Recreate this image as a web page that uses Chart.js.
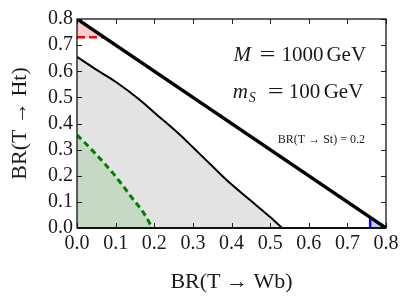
<!DOCTYPE html>
<html>
<head>
<meta charset="utf-8">
<script src="https://cdn.jsdelivr.net/npm/chart.js@4.4.1/dist/chart.umd.min.js"></script>
<style>
  html, body { margin: 0; padding: 0; background: #fff; }
</style>
</head>
<body>
<canvas id="brChart" width="407" height="300"></canvas>
<script>
// ── DATA ──────────────────────────────────────────────────────────────────────
const axisTicks  = [0, 0.1, 0.2, 0.3, 0.4, 0.5, 0.6, 0.7, 0.8];

// kinematic limit BR(Wb)+BR(Ht) = 1 - BR(St)
const limitX     = [0, 0.8];
const limitY     = [0.8, 0];

// excluded region (grey, solid black edge)
const exclX      = [0, 0.05, 0.1, 0.163, 0.2, 0.267, 0.3, 0.35, 0.396, 0.448, 0.5, 0.531];
const exclY      = [0.655, 0.606, 0.56, 0.49, 0.442, 0.356, 0.309, 0.237, 0.172, 0.107, 0.042, 0];

// green dashed region
const greenX     = [0, 0.034, 0.093, 0.137, 0.181, 0.194];
const greenY     = [0.356, 0.306, 0.21, 0.126, 0.038, 0];

// red dashed edge (Ht bound) and blue edge (Wb bound)
const redX       = [0, 0.07];
const redY       = [0.73, 0.73];
const redTopY    = [0.8, 0.73];
const blueX      = [0.759, 0.759];
const blueY      = [0, 0.041];
const blueTriX   = [0.759, 0.8];
const blueTriY   = [0.041, 0];

const FONT = '"Liberation Serif", "DejaVu Serif", serif';

const pts = (xs, ys) => xs.map((x, i) => ({ x, y: ys[i] }));

// wide "=" like the TeX one
function drawEq(ctx, x, y) {
  ctx.save();
  ctx.translate(x, y);
  ctx.scale(1.35, 1);
  ctx.fillText('=', 0, 0);
  ctx.restore();
}

// ── FRAME / TICKS / LABELS PLUGIN ────────────────────────────────────────────
const framePlugin = {
  id: 'frame',
  afterDatasetsDraw(chart) {
    const { ctx, chartArea: a, scales: { x, y } } = chart;
    ctx.save();
    ctx.strokeStyle = '#222';
    ctx.lineWidth = 1;
    // inward ticks on all four sides
    axisTicks.forEach(v => {
      const px = Math.round(x.getPixelForValue(v)) + 0.5;
      const py = Math.round(y.getPixelForValue(v)) + 0.5;
      ctx.beginPath();
      ctx.moveTo(px, a.bottom); ctx.lineTo(px, a.bottom - 5);
      ctx.moveTo(px, a.top);    ctx.lineTo(px, a.top + 5);
      ctx.moveTo(a.left, py);   ctx.lineTo(a.left + 5, py);
      ctx.moveTo(a.right, py);  ctx.lineTo(a.right - 5, py);
      ctx.stroke();
    });
    ctx.strokeStyle = '#111';
    ctx.lineWidth = 1.3;
    ctx.strokeRect(a.left, a.top, a.right - a.left, a.bottom - a.top);
    ctx.lineWidth = 2;
    ctx.beginPath();
    ctx.moveTo(a.left, a.bottom); ctx.lineTo(a.right, a.bottom);
    ctx.stroke();
    ctx.restore();
  },
  afterDraw(chart) {
    const { ctx, chartArea: a, scales: { x, y } } = chart;
    ctx.save();
    ctx.fillStyle = '#1a1a1a';

    // axis titles
    ctx.font = `22px ${FONT}`;
    ctx.textAlign = 'center';
    ctx.textBaseline = 'alphabetic';
    ctx.fillText('BR(T \u2192 Wb)', (a.left + a.right) / 2, 288);
    ctx.save();
    ctx.translate(26, (a.top + a.bottom) / 2);
    ctx.rotate(-Math.PI / 2);
    ctx.fillText('BR(T \u2192 Ht)', 0, 0);
    ctx.restore();

    // M = 1000 GeV
    ctx.textAlign = 'left';
    let px = x.getPixelForValue(0.405), py = y.getPixelForValue(0.64);
    ctx.font = `italic 21px ${FONT}`;
    ctx.fillText('M', px, py);
    ctx.font = `21px ${FONT}`;
    drawEq(ctx, px + 26, py);
    ctx.fillText('1000', px + 48, py);
    ctx.fillText('GeV', px + 93, py);

    // m_S = 100 GeV
    px = x.getPixelForValue(0.403); py = y.getPixelForValue(0.497);
    ctx.font = `italic 21px ${FONT}`;
    ctx.fillText('m', px, py);
    ctx.font = `italic 14px ${FONT}`;
    ctx.fillText('S', px + 16, py + 4);
    ctx.font = `21px ${FONT}`;
    drawEq(ctx, px + 35, py);
    ctx.fillText('100', px + 56, py);
    ctx.fillText('GeV', px + 91, py);

    // BR(T -> St) = 0.2
    ctx.font = `12px ${FONT}`;
    ctx.fillText('BR(T \u2192 St) = 0.2', x.getPixelForValue(0.52), y.getPixelForValue(0.326));
    ctx.restore();
  }
};

// ── CHART ─────────────────────────────────────────────────────────────────────
new Chart(document.getElementById('brChart'), {
  type: 'scatter',
  data: {
    datasets: [
      { data: pts(limitX, limitY), showLine: true, borderColor: '#000', borderWidth: 3.5,
        pointRadius: 0, fill: false, order: 0 },
      { data: pts(blueX, blueY), showLine: true, borderColor: '#0000ff', borderWidth: 2.5,
        pointRadius: 0, fill: false, order: 1 },
      { data: pts(blueTriX, blueTriY), showLine: true, borderWidth: 0, borderColor: 'rgba(0,0,0,0)',
        backgroundColor: '#c9c9f7', pointRadius: 0, fill: 'origin', order: 2 },
      { data: pts(redX, redY), showLine: true, borderColor: '#ff0000', borderWidth: 2.5,
        borderDash: [8, 4], pointRadius: 0, fill: false, order: 3 },
      { data: pts(redX, redTopY), showLine: true, borderWidth: 0, borderColor: 'rgba(0,0,0,0)',
        backgroundColor: '#ffcccc', pointRadius: 0, fill: { value: 0.73 }, order: 4 },
      { data: pts(greenX, greenY), showLine: true, borderColor: '#008000', borderWidth: 3,
        borderDash: [6, 4], cubicInterpolationMode: 'monotone',
        backgroundColor: '#c5d9c5', pointRadius: 0, fill: 'origin', order: 5 },
      { data: pts(exclX, exclY), showLine: true, borderColor: '#000', borderWidth: 2,
        cubicInterpolationMode: 'monotone',
        backgroundColor: '#e3e3e3', pointRadius: 0, fill: 'origin', order: 6 }
    ]
  },
  options: {
    responsive: false,
    animation: false,
    layout: { padding: { top: 19, right: 21, left: 0, bottom: 0 } },
    plugins: { legend: { display: false }, tooltip: { enabled: false } },
    scales: {
      x: {
        type: 'linear', min: 0, max: 0.8,
        grid: { display: false, drawTicks: false },
        border: { display: false },
        afterFit: s => { s.height = 72; },
        afterBuildTicks: s => { s.ticks = axisTicks.map(v => ({ value: v })); },
        ticks: { padding: 4, color: '#1a1a1a', maxRotation: 0, autoSkip: false,
                 font: { family: FONT, size: 20 }, callback: v => v.toFixed(1) }
      },
      y: {
        type: 'linear', min: 0, max: 0.8,
        grid: { display: false, drawTicks: false },
        border: { display: false },
        afterFit: s => { s.width = 77; },
        afterBuildTicks: s => { s.ticks = axisTicks.map(v => ({ value: v })); },
        ticks: { padding: 4, color: '#1a1a1a', autoSkip: false,
                 font: { family: FONT, size: 20 }, callback: v => v.toFixed(1) }
      }
    }
  },
  plugins: [framePlugin]
});
</script>
</body>
</html>
